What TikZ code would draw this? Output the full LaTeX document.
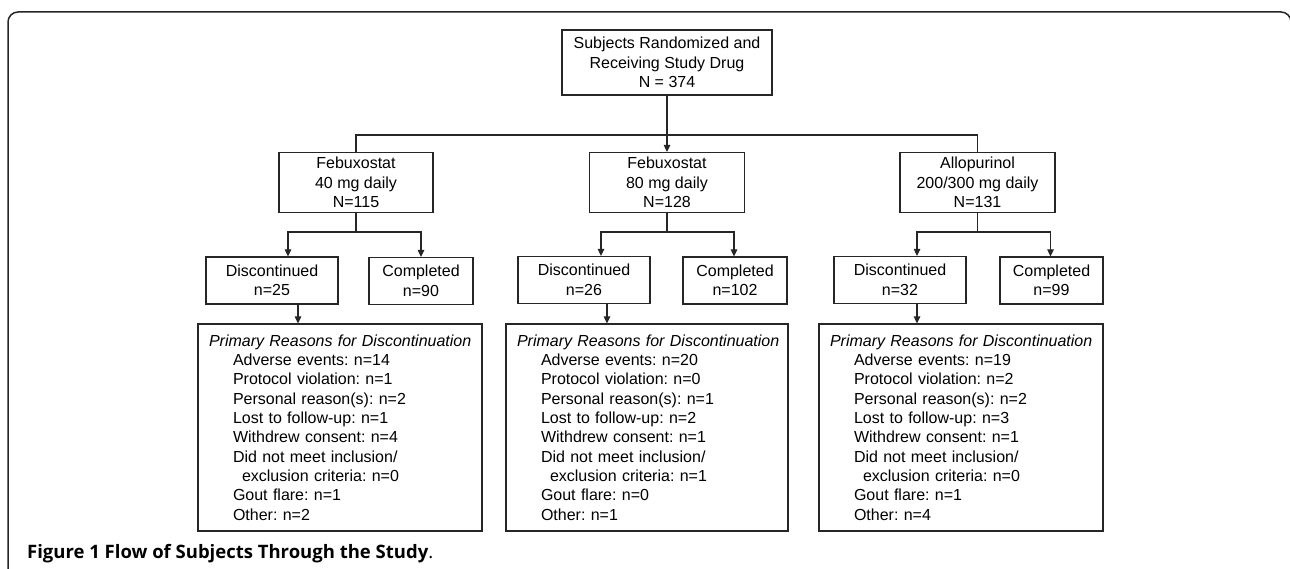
\documentclass[tikz,border=0pt]{standalone}
\usepackage{fontspec}
\setmainfont{Liberation Sans}
\newfontfamily\capfont{Open Sans}
\usetikzlibrary{arrows.meta,calc}
\frenchspacing
\tikzset{
  ln/.style={draw=black!85, line width=1.2pt},
  arr/.style={ln, -{Triangle[length=7pt,width=6.5pt]}},
  bx/.style={draw=black!85, line width=1.2pt, inner sep=0pt, align=center,
    font=\fontsize{16}{19.5}\selectfont},
  rbx/.style={draw=black!85, line width=1.2pt, inner sep=0pt, align=left,
    text width=#1, font=\fontsize{16}{19.3}\selectfont, minimum height=207pt},
  framepath/.style={draw=black!85, line width=1.5pt, rounded corners=10pt}
}
\newcommand{\rtitle}[1]{\hspace*{11pt}\mbox{\itshape #1}}
\newcommand{\ritem}[1]{\hspace*{35pt}#1}
\newcommand{\rsub}[1]{\hspace*{44pt}#1}
\begin{document}
\begin{tikzpicture}[x=1pt,y=-1pt]
\useasboundingbox (0,0) rectangle (1290,569);
\draw[framepath] (8,575) -- (8,12) -- (1291,12) -- (1291,575);

\coordinate (busY) at (0,135);
\coordinate (subY) at (0,232);

\node[bx, minimum width=210pt, minimum height=65pt] (top) at (667,62.5)
  {Subjects Randomized and\\Receiving Study Drug\\N = 374};

\node[bx, minimum width=154pt, minimum height=60pt] (f40) at (356,182.5)
  {Febuxostat\\40 mg daily\\N=115};
\node[bx, minimum width=155pt, minimum height=60pt] (f80) at (667,182.5)
  {Febuxostat\\80 mg daily\\N=128};
\node[bx, minimum width=155pt, minimum height=60pt] (allo) at (977.5,182.5)
  {Allopurinol\\200/300 mg daily\\N=131};

\node[bx, minimum width=132pt, minimum height=47pt] (dL) at (272,280.5) {Discontinued\\n=25};
\node[bx, minimum width=104pt, minimum height=47pt] (cL) at (421,281) {Completed\\n=90};
\node[bx, minimum width=132pt, minimum height=47pt] (dM) at (584,280) {Discontinued\\n=26};
\node[bx, minimum width=104pt, minimum height=47pt] (cM) at (735,280.5) {Completed\\n=102};
\node[bx, minimum width=132pt, minimum height=47pt] (dR) at (900,280) {Discontinued\\n=32};
\node[bx, minimum width=103pt, minimum height=47pt] (cR) at (1051.5,280.5) {Completed\\n=99};

\node[rbx=284pt] (rL) at (340,427.5) {%
\rtitle{Primary Reasons for Discontinuation}\\
\ritem{Adverse events: n=14}\\
\ritem{Protocol violation: n=1}\\
\ritem{Personal reason(s): n=2}\\
\ritem{Lost to follow-up: n=1}\\
\ritem{Withdrew consent: n=4}\\
\ritem{Did not meet inclusion/}\\
\rsub{exclusion criteria: n=0}\\
\ritem{Gout flare: n=1}\\
\ritem{Other: n=2}};

\node[rbx=282pt] (rM) at (647,427.5) {%
\rtitle{Primary Reasons for Discontinuation}\\
\ritem{Adverse events: n=20}\\
\ritem{Protocol violation: n=0}\\
\ritem{Personal reason(s): n=1}\\
\ritem{Lost to follow-up: n=2}\\
\ritem{Withdrew consent: n=1}\\
\ritem{Did not meet inclusion/}\\
\rsub{exclusion criteria: n=1}\\
\ritem{Gout flare: n=0}\\
\ritem{Other: n=1}};

\node[rbx=284pt] (rR) at (961,427.5) {%
\rtitle{Primary Reasons for Discontinuation}\\
\ritem{Adverse events: n=19}\\
\ritem{Protocol violation: n=2}\\
\ritem{Personal reason(s): n=2}\\
\ritem{Lost to follow-up: n=3}\\
\ritem{Withdrew consent: n=1}\\
\ritem{Did not meet inclusion/}\\
\rsub{exclusion criteria: n=0}\\
\ritem{Gout flare: n=1}\\
\ritem{Other: n=4}};

% top level
\draw[ln] (f40.north) -- (f40.north |- busY) -- (allo.north |- busY) -- (allo.north);
\draw[arr] (top.south) -- (f80.north);

% second level
\draw[ln] (f40.south) -- (f40.south |- subY);
\draw[arr] (f40.south |- subY) -| ([xshift=16pt]dL.north);
\draw[arr] (f40.south |- subY) -| (cL.north);
\draw[ln] (f80.south) -- (f80.south |- subY);
\draw[arr] (f80.south |- subY) -| ([xshift=17pt]dM.north);
\draw[arr] (f80.south |- subY) -| ([xshift=-1pt]cM.north);
\draw[ln] (allo.south) -- (allo.south |- subY);
\draw[arr] (allo.south |- subY) -| ([xshift=17pt]dR.north);
\draw[arr] (allo.south |- subY) -| ([xshift=-1pt]cR.north);

% discontinued to reasons
\draw[arr] ([xshift=26pt]dL.south) -- ([xshift=26pt]dL.south |- rL.north);
\draw[arr] ([xshift=23pt]dM.south) -- ([xshift=23pt]dM.south |- rM.north);
\draw[arr] ([xshift=17pt]dR.south) -- ([xshift=17pt]dR.south |- rR.north);

\node[anchor=base west, inner sep=0pt] (cap) at (27,558)
  {\capfont\fontsize{18.5}{20}\selectfont\bfseries Figure 1 Flow of Subjects Through the Study\mdseries.};
\end{tikzpicture}
\end{document}
